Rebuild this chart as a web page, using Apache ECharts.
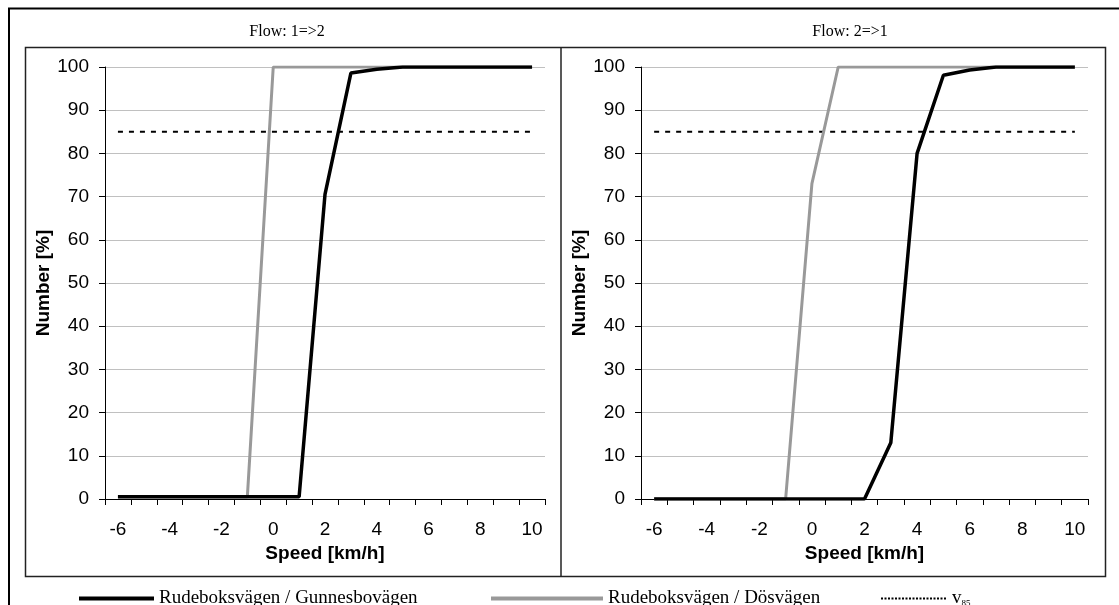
<!DOCTYPE html>
<html>
<head>
<meta charset="utf-8">
<script src="https://cdn.jsdelivr.net/npm/echarts@6/dist/echarts.min.js"></script>
<style>
  html, body { margin: 0; padding: 0; background: #fff; }
  #chart { width: 1119px; height: 605px; }
</style>
</head>
<body>
<div id="chart"></div>
<script>
// Speed categories (km/h)
const speeds = ['-6','-5','-4','-3','-2','-1','0','1','2','3','4','5','6','7','8','9','10'];

// Flow 1=>2: cumulative share of vehicles [%]
const flow12Gunnesbo = [0.5,0.5,0.5,0.5,0.5,0.5,0.5,0.5,70.5,98.6,99.5,100,100,100,100,100,100];
const flow12Dos      = [0.5,0.5,0.5,0.5,0.5,0.5,100,100,100,100,100,100,100,100,100,100,100];

// Flow 2=>1: cumulative share of vehicles [%]
const flow21Gunnesbo = [0,0,0,0,0,0,0,0,0,13,80,98.1,99.3,100,100,100,100];
const flow21Dos      = [0,0,0,0,0,0,73,100,100,100,100,100,100,100,100,100,100];

// 85th percentile reference level
const v85Level = 85;
const v85Line = speeds.map(() => v85Level);

const panelTitles = ['Flow: 1=>2', 'Flow: 2=>1'];
const nameBlack = 'Rudeboksvägen / Gunnesbovägen';
const nameGray  = 'Rudeboksvägen / Dösvägen';
const nameV85   = 'v85';

const sansFont = 'Liberation Sans, Arial, sans-serif';
const serifFont = 'Liberation Serif, Times New Roman, serif';

const grids = [
  { left: 105, top: 67, width: 440, height: 432 },
  { left: 641, top: 67, width: 447, height: 432 }
];

function xAxisFor(i) {
  return {
    type: 'category', gridIndex: i, data: speeds, boundaryGap: true,
    name: 'Speed [km/h]', nameLocation: 'middle', nameGap: 41,
    nameTextStyle: { fontFamily: sansFont, fontWeight: 'bold', fontSize: 19, color: '#000' },
    axisLine: { lineStyle: { color: '#000', width: 1 } },
    axisTick: { show: true, interval: 0, length: 6, lineStyle: { color: '#000' } },
    axisLabel: { interval: 1, margin: 21, fontFamily: sansFont, fontSize: 19, color: '#000' },
    splitLine: { show: false }
  };
}
function yAxisFor(i) {
  return {
    type: 'value', gridIndex: i, min: 0, max: 100, interval: 10,
    name: 'Number [%]', nameLocation: 'middle', nameGap: 50, nameRotate: 90,
    nameTextStyle: { fontFamily: sansFont, fontWeight: 'bold', fontSize: 19, color: '#000' },
    axisLine: { show: true, lineStyle: { color: '#000', width: 1 } },
    axisTick: { show: true, length: 6, lineStyle: { color: '#000' } },
    axisLabel: { margin: 16, fontFamily: sansFont, fontSize: 19, color: '#000' },
    splitLine: { show: true, lineStyle: { color: '#c0c0c0', width: 1 } }
  };
}
function lineSeries(name, data, i, color, width, type) {
  return {
    name, type: 'line', xAxisIndex: i, yAxisIndex: i, data,
    symbol: 'none', animation: false,
    lineStyle: { color, width, type: type || 'solid' },
    itemStyle: { color }
  };
}

const series = [
  lineSeries(nameV85, v85Line, 0, '#000', 2, [5, 6]),
  lineSeries(nameGray, flow12Dos, 0, '#999999', 3),
  lineSeries(nameBlack, flow12Gunnesbo, 0, '#000', 3.5),
  lineSeries(nameV85, v85Line, 1, '#000', 2, [5, 6]),
  lineSeries(nameGray, flow21Dos, 1, '#999999', 3),
  lineSeries(nameBlack, flow21Gunnesbo, 1, '#000', 3.5)
];

const legendText = { fontFamily: serifFont, fontSize: 19, color: '#000',
  rich: { v: { fontFamily: serifFont, fontSize: 19, color: '#000' },
          s: { fontFamily: serifFont, fontSize: 9, color: '#000', verticalAlign: 'bottom', padding: [9, 0, 0, 0] } } };

const legendBase = {
  top: 584, itemHeight: 12, itemGap: 0, selectedMode: false,
  textStyle: legendText, itemStyle: { opacity: 0 }
};

const option = {
  backgroundColor: '#fff',
  animation: false,
  title: panelTitles.map((t, i) => ({
    text: t, left: i === 0 ? 282 : 845, top: 19, textAlign: 'center',
    textStyle: { fontFamily: serifFont, fontWeight: 'normal', fontSize: 16, color: '#000' }
  })),
  grid: grids,
  xAxis: [xAxisFor(0), xAxisFor(1)],
  yAxis: [yAxisFor(0), yAxisFor(1)],
  legend: [
    Object.assign({}, legendBase, { data: [nameBlack], left: 72, itemWidth: 75, lineStyle: { width: 4 } }),
    Object.assign({}, legendBase, { data: [nameGray], left: 484, itemWidth: 112, lineStyle: { width: 4 } }),
    Object.assign({}, legendBase, {
      data: [{ name: nameV85, lineStyle: { type: [2, 1.5], width: 2 } }],
      left: 875, itemWidth: 66, formatter: () => '{v|v}{s|85}'
    })
  ],
  graphic: [
    // outer frame (top and left edges)
    { type: 'polyline', silent: true, z: 100,
      shape: { points: [[9, 610], [9, 8.5], [1125, 8.5]] },
      style: { stroke: '#000', lineWidth: 2, fill: null } },
    // panel frame with divider
    { type: 'rect', silent: true, z: 100,
      shape: { x: 25.5, y: 47.5, width: 1080, height: 529 },
      style: { stroke: '#222', lineWidth: 1.5, fill: null } },
    { type: 'line', silent: true, z: 100,
      shape: { x1: 561, y1: 47.5, x2: 561, y2: 576.5 },
      style: { stroke: '#222', lineWidth: 1.5 } }
  ],
  series
};

const chart = echarts.init(document.getElementById('chart'), null, { renderer: 'canvas' });
chart.setOption(option);
</script>
</body>
</html>
